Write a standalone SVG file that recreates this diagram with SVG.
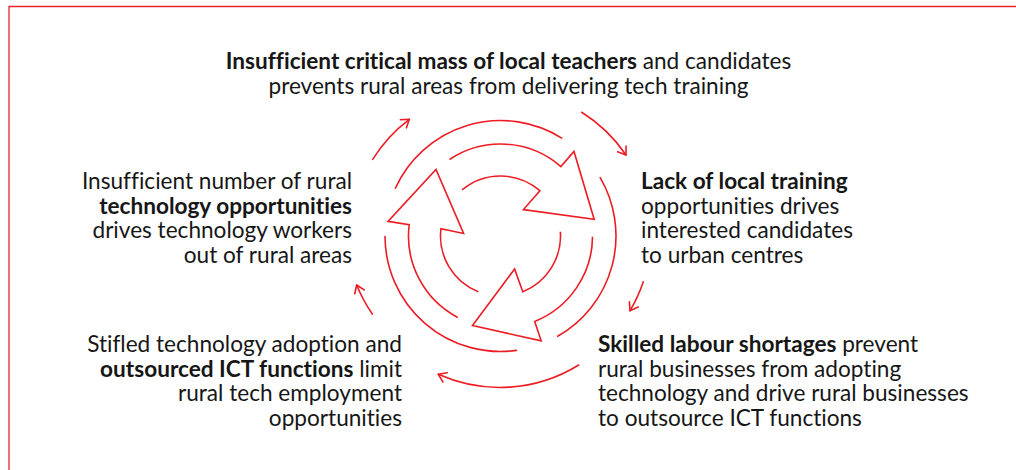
<svg xmlns="http://www.w3.org/2000/svg" width="1016" height="470" viewBox="0 0 1016 470">
  <style>
    .frame { fill: none; stroke: #e8232d; stroke-width: 1.3; }
    .ring { fill: none; stroke: #ec1c24; stroke-width: 1.6; stroke-linecap: round; }
    .arrow { fill: none; stroke: #ec1c24; stroke-width: 1.6; stroke-linejoin: miter; }
    .label { font-family: Lato, "Liberation Sans", sans-serif; font-size: 22.6px; fill: #161616; font-variant-ligatures: none; }
    .label tspan.b { font-weight: 700; }
  </style>
  <defs>
    <marker id="chev" markerUnits="userSpaceOnUse" markerWidth="20" markerHeight="20" refX="10" refY="10" orient="auto" viewBox="0 0 20 20">
      <path d="M 2.6 4.9 L 10 10 L 2.6 15.1" fill="none" stroke="#ec1c24" stroke-width="1.6" stroke-linecap="round" stroke-linejoin="round"/>
    </marker>
  </defs>

  <rect width="1016" height="470" fill="#ffffff"/>
  <!-- page frame: top and left rules -->
  <path class="frame" d="M 9 470 L 9 6.5 L 1016 6.5"/>

  <!-- central cycle graphic -->
  <g id="cycle">
    <!-- three hollow band arrows -->
    <path class="arrow" d="M 449.46 159.46 A 92 92 0 0 1 560.86 166.57 L 573.98 151.47 L 594.2 219.4 L 523.46 209.59 L 539.87 190.72 A 60 60 0 0 0 462.09 189.9"/>
    <path class="arrow" d="M 592.5 236.64 A 92 92 0 0 1 534.67 321.42 L 541.2 340.8 L 472.5 325.6 L 514.6 269.0 L 522.78 291.71 A 60 60 0 0 0 560.35 231.71"/>
    <path class="arrow" d="M 457.74 317.46 A 92 92 0 0 1 409.19 224.79 L 388.0 221.4 L 436 169.5 L 463.6 233.5 L 440.95 228.69 A 60 60 0 0 0 478.32 291.75"/>
    <!-- middle ring segments -->
    <path class="ring" d="M 395.4 188.1 A 115.5 115.5 0 0 1 561.7 138.1"/>
    <path class="ring" d="M 600.2 177.7 A 115.5 115.5 0 0 1 557.7 336.3"/>
    <path class="ring" d="M 516.4 350.4 A 115.5 115.5 0 0 1 385.0 236.6"/>
  </g>

  <!-- connectors between the statements -->
  <g id="connectors">
    <path class="ring" marker-end="url(#chev)" d="M 372.7 159.3 A 150 150 0 0 1 409.3 119.3"/>
    <path class="ring" marker-end="url(#chev)" d="M 581.7 112.3 A 150 150 0 0 1 626 155"/>
    <path class="ring" marker-end="url(#chev)" d="M 643.3 281.7 A 150 150 0 0 1 630 310.7"/>
    <path class="ring" marker-end="url(#chev)" d="M 578.7 365 A 150 150 0 0 1 438.3 374.3"/>
    <path class="ring" marker-end="url(#chev)" d="M 372.3 314 A 150 150 0 0 1 356.7 285"/>
  </g>

  <!-- statements -->
  <g id="node-teachers">
    <text class="label" text-anchor="middle" x="508.5" y="69"><tspan class="b">Insufficient critical mass of local teachers</tspan> and candidates</text>
    <text class="label" text-anchor="middle" x="508.5" y="94">prevents rural areas from delivering tech training</text>
  </g>

  <g id="node-training">
    <text class="label" x="641" y="189"><tspan class="b">Lack of local training</tspan></text>
    <text class="label" x="641" y="213.5">opportunities drives</text>
    <text class="label" x="641" y="238">interested candidates</text>
    <text class="label" x="641" y="262.5">to urban centres</text>
  </g>

  <g id="node-shortages">
    <text class="label" x="598" y="352"><tspan class="b">Skilled labour shortages</tspan> prevent</text>
    <text class="label" x="598" y="376.6">rural businesses from adopting</text>
    <text class="label" x="598" y="401.2">technology and drive rural businesses</text>
    <text class="label" x="598" y="425.8">to outsource ICT functions</text>
  </g>

  <g id="node-adoption">
    <text class="label" text-anchor="end" x="402" y="352">Stifled technology adoption and</text>
    <text class="label" text-anchor="end" x="402" y="376.6"><tspan class="b">outsourced ICT functions</tspan> limit</text>
    <text class="label" text-anchor="end" x="402" y="401.2">rural tech employment</text>
    <text class="label" text-anchor="end" x="402" y="425.8">opportunities</text>
  </g>

  <g id="node-opportunities">
    <text class="label" text-anchor="end" x="352" y="189">Insufficient number of rural</text>
    <text class="label" text-anchor="end" x="352" y="213.5"><tspan class="b">technology opportunities</tspan></text>
    <text class="label" text-anchor="end" x="352" y="238">drives technology workers</text>
    <text class="label" text-anchor="end" x="352" y="262.5">out of rural areas</text>
  </g>
</svg>
